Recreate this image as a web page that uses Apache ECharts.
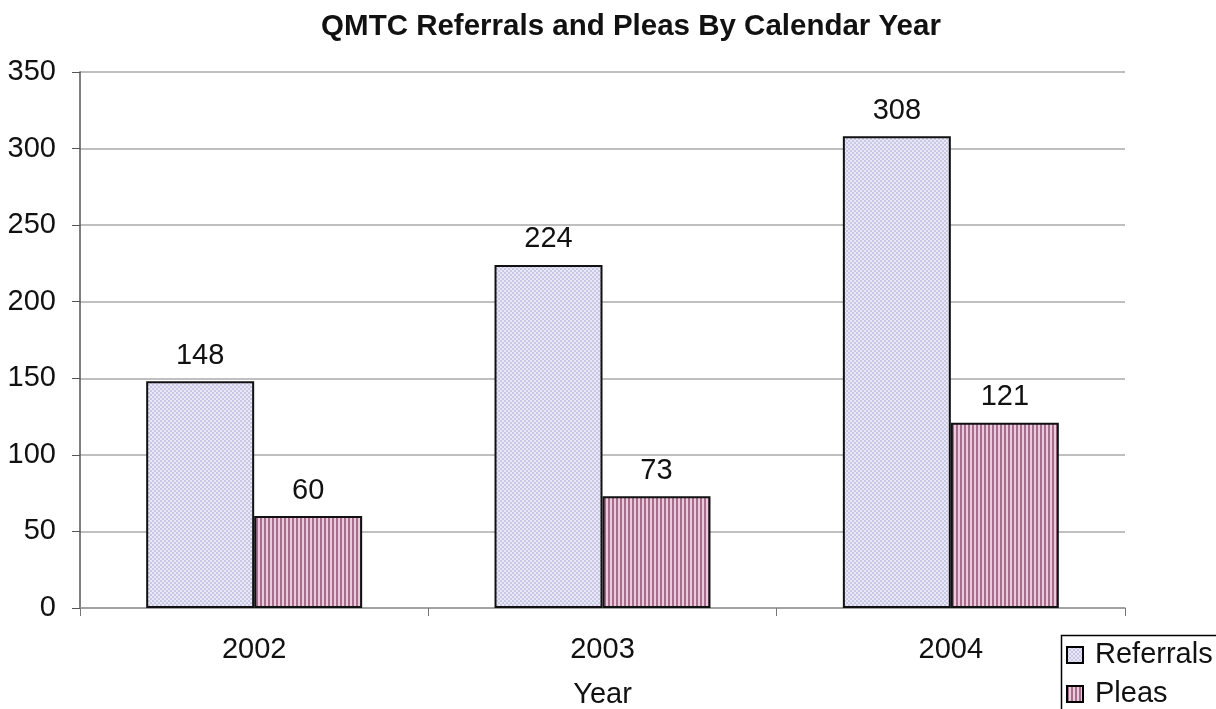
<!DOCTYPE html>
<html><head><meta charset="utf-8">
<script src="https://cdn.jsdelivr.net/npm/echarts@6/dist/echarts.min.js"></script>
<style>html,body{margin:0;padding:0;background:#fff}#c{width:1216px;height:709px}</style>
</head><body><div id="c"></div>
<script>
const years = ['2002', '2003', '2004'];
const referrals = [148, 224, 308];
const pleas = [60, 73, 121];
const yTicks = [0, 50, 100, 150, 200, 250, 300, 350];

function dotPattern() {
  const c = document.createElement('canvas'); c.width = 4; c.height = 4;
  const g = c.getContext('2d');
  g.fillStyle = '#e8e8f6'; g.fillRect(0, 0, 4, 4);
  g.fillStyle = '#c8c8e4';
  g.fillRect(0, 0, 2, 2); g.fillRect(2, 2, 2, 2);
  return c;
}
function stripePattern() {
  const c = document.createElement('canvas'); c.width = 4; c.height = 4;
  const g = c.getContext('2d');
  g.fillStyle = '#eacadb'; g.fillRect(0, 0, 4, 4);
  g.fillStyle = '#a66e8c'; g.fillRect(0, 0, 2, 4);
  return c;
}
const refFill = { image: dotPattern(), repeat: 'repeat' };
const pleaFill = { image: stripePattern(), repeat: 'repeat' };

const chart = echarts.init(document.getElementById('c'));
const font = 'Liberation Sans, Arial, sans-serif';
const FS = 29;
chart.setOption({
  animation: false,
  title: { text: 'QMTC Referrals and Pleas By Calendar Year', left: 626, top: 7, textAlign: 'center',
    textStyle: { fontFamily: font, fontSize: 29.5, fontWeight: 'bold', color: '#111' } },
  grid: { left: 80, right: 91, top: 72, bottom: 101, containLabel: false, outerBoundsMode: 'none' },
  graphic: [{ type: 'rect', left: 1059, top: 633, z: 1,
    shape: { width: 200, height: 120 },
    style: { fill: 'none', stroke: '#000', lineWidth: 1.5 } }],
  legend: {
    orient: 'vertical', left: 1066, top: 640,
    itemWidth: 16, itemHeight: 16, itemGap: 9, padding: 0,
    icon: 'rect',
    textStyle: { fontFamily: font, fontSize: FS, lineHeight: 30, color: '#111', padding: [0, 0, 0, 7] },
    data: [
      { name: 'Referrals', itemStyle: { color: refFill, borderColor: '#000', borderWidth: 2 } },
      { name: 'Pleas', itemStyle: { color: pleaFill, borderColor: '#000', borderWidth: 2 } }
    ]
  },
  xAxis: {
    type: 'category', data: years,
    name: 'Year', nameLocation: 'middle', nameGap: 72,
    nameTextStyle: { fontFamily: font, fontSize: FS, color: '#111' },
    axisLine: { lineStyle: { color: '#999', width: 1.5 } },
    axisTick: { show: true, length: 8, lineStyle: { color: '#777' } },
    axisLabel: { fontFamily: font, fontSize: FS, color: '#111', margin: 27 }
  },
  yAxis: {
    type: 'value', min: 0, max: 350, interval: 50,
    axisLine: { show: true, lineStyle: { color: '#555', width: 1.5 } },
    axisTick: { show: true, length: 8, lineStyle: { color: '#555' } },
    axisLabel: { fontFamily: font, fontSize: FS, color: '#111', margin: 24,
      formatter: v => yTicks.includes(v) ? String(v) : '' },
    splitLine: { lineStyle: { color: '#aaa', width: 1.5 } }
  },
  series: [
    { name: 'Referrals', type: 'bar', data: referrals, barCategoryGap: '38%', barGap: '0%',
      itemStyle: { color: refFill, borderColor: '#111', borderWidth: 2 },
      label: { show: true, position: 'top', distance: 11, fontFamily: font, fontSize: FS, color: '#111' } },
    { name: 'Pleas', type: 'bar', data: pleas, barCategoryGap: '38%', barGap: '0%',
      itemStyle: { color: pleaFill, borderColor: '#111', borderWidth: 2 },
      label: { show: true, position: 'top', distance: 11, fontFamily: font, fontSize: FS, color: '#111' } }
  ]
});
</script></body></html>
